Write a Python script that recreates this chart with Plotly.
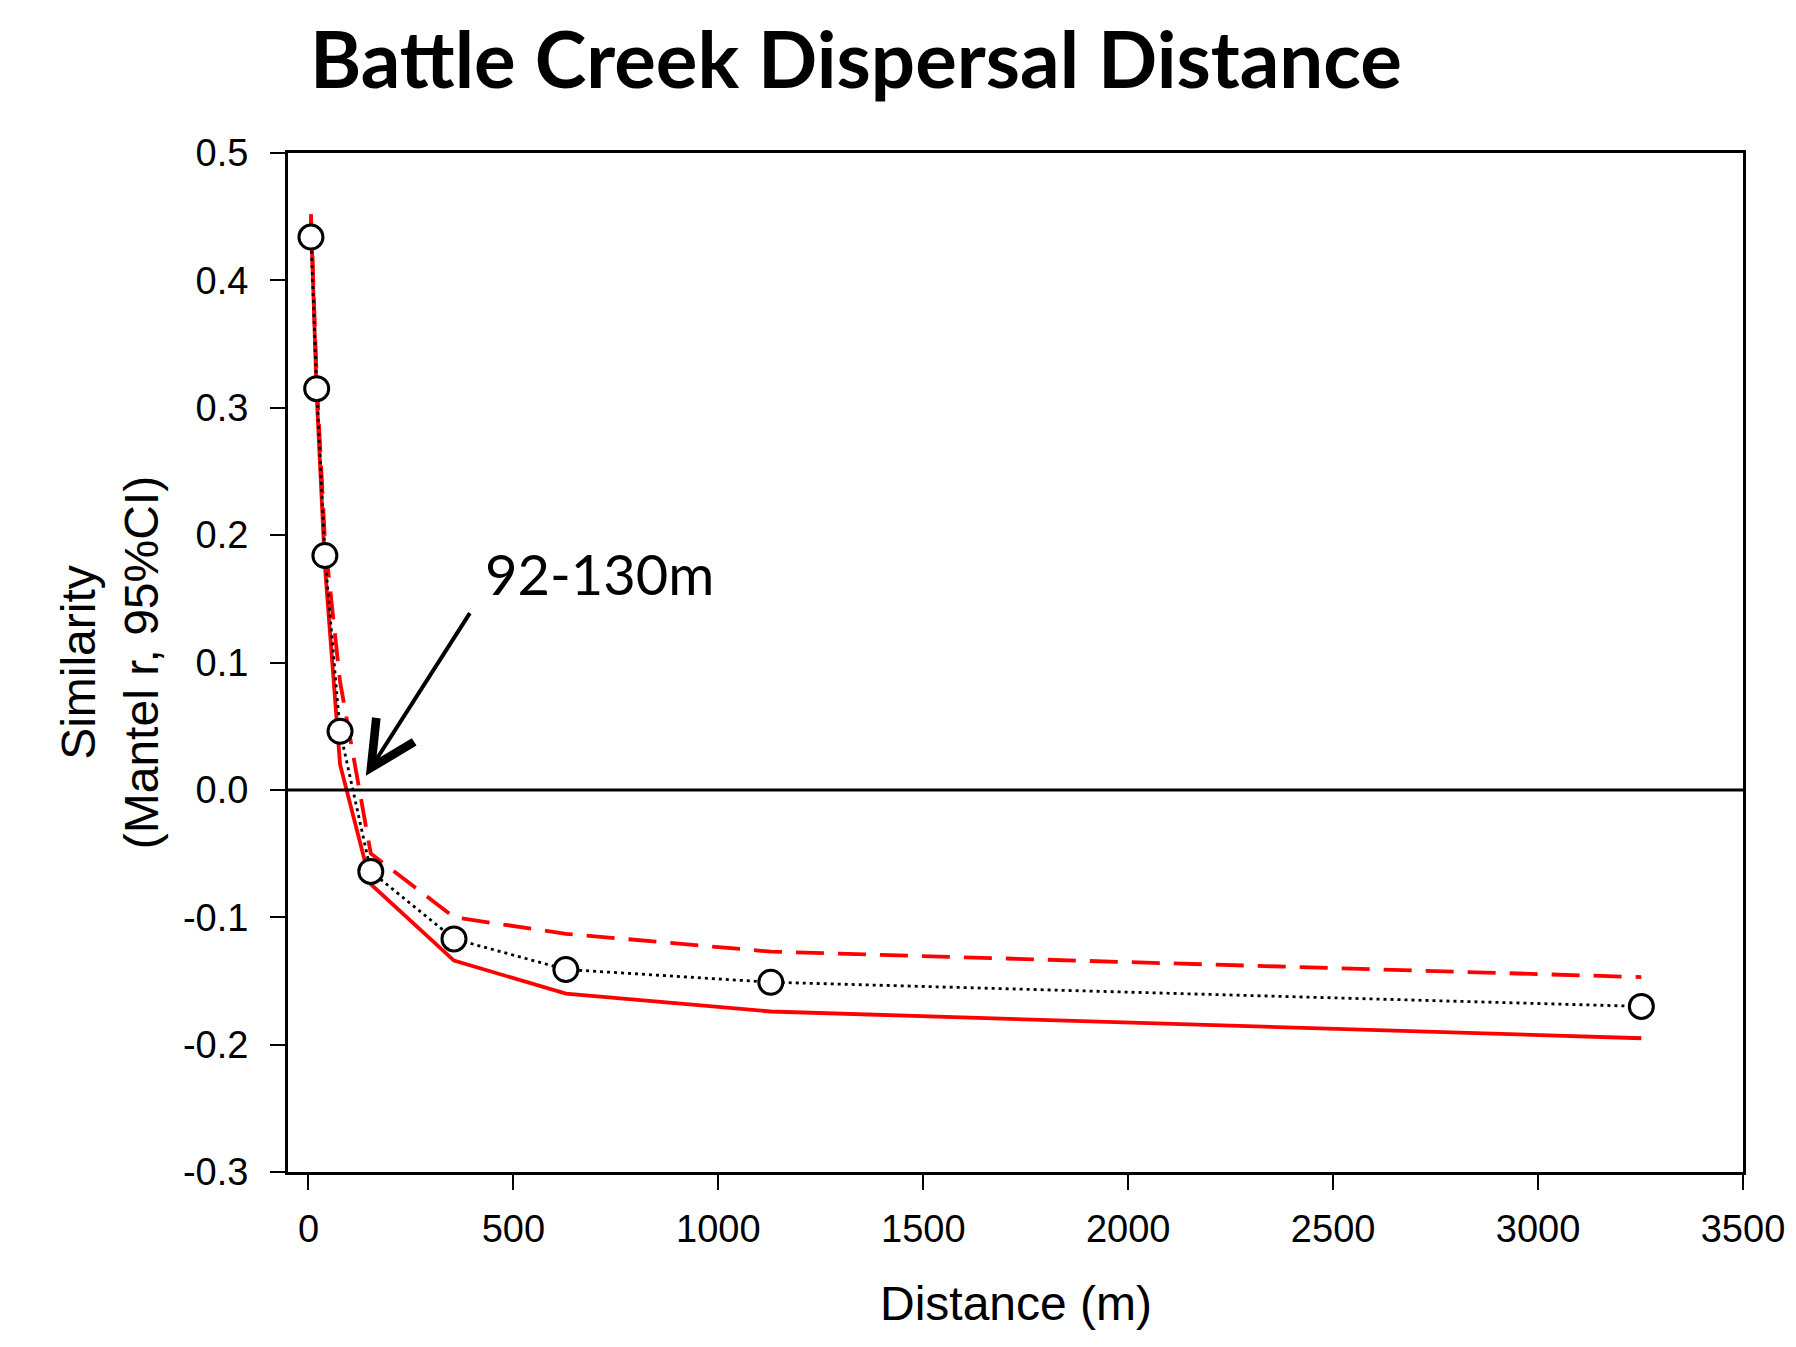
import plotly.graph_objects as go

distance = [6, 20, 40, 77, 152, 355, 628, 1128, 3252]
mantel_r = [0.434, 0.315, 0.184, 0.046, -0.064, -0.117, -0.141, -0.151, -0.170]
ci_upper = [0.452, 0.322, 0.196, 0.085, -0.050, -0.100, -0.113, -0.127, -0.147]
ci_lower = [0.450, 0.310, 0.176, 0.020, -0.074, -0.134, -0.160, -0.174, -0.195]

x_ticks = [0, 500, 1000, 1500, 2000, 2500, 3000, 3500]
y_ticks = [0.5, 0.4, 0.3, 0.2, 0.1, 0.0, -0.1, -0.2, -0.3]
y_tick_labels = ["0.5", "0.4", "0.3", "0.2", "0.1", "0.0", "-0.1", "-0.2", "-0.3"]

fig = go.Figure()
fig.add_trace(go.Scatter(x=distance, y=ci_upper, mode="lines",
                         line=dict(color="#ff0000", width=3.8, dash="28px,14px"),
                         showlegend=False))
fig.add_trace(go.Scatter(x=distance, y=ci_lower, mode="lines",
                         line=dict(color="#ff0000", width=3.8),
                         showlegend=False))
fig.add_trace(go.Scatter(x=distance, y=mantel_r, mode="lines+markers",
                         line=dict(color="black", width=2.8, dash="3px,4px"),
                         marker=dict(symbol="circle", size=24, color="white",
                                     line=dict(color="black", width=3)),
                         showlegend=False))

fig.add_shape(type="line", xref="paper", yref="y", x0=0, x1=1, y0=0, y1=0,
              line=dict(color="black", width=3))

fig.add_annotation(x=140, y=0.011, ax=396, ay=0.140, xref="x", yref="y",
                   axref="x", ayref="y", text="", showarrow=True,
                   arrowhead=5, arrowsize=2.2, arrowwidth=4, arrowcolor="black")
fig.add_annotation(x=709, y=0.170, xref="x", yref="y", text="92-130m",
                   showarrow=False, font=dict(family="Lato", size=56, color="black"))

fig.add_annotation(x=-0.1225, y=0.5, xref="paper", yref="paper",
                   xanchor="center", yanchor="middle",
                   text="Similarity<br>(Mantel r, 95%CI)", textangle=-90,
                   showarrow=False,
                   font=dict(family="Liberation Sans", size=48, color="black"))
fig.add_annotation(x=0.5, y=-0.1286, xref="paper", yref="paper",
                   xanchor="center", yanchor="middle",
                   text="Distance (m)", showarrow=False,
                   font=dict(family="Liberation Sans", size=48, color="black"))

fig.update_layout(
    width=1780, height=1331,
    margin=dict(l=280, r=45, t=145, b=167, autoexpand=False),
    paper_bgcolor="white", plot_bgcolor="white",
    title=dict(text="<b>Battle Creek Dispersal Distance</b>", xref="container",
               yref="container", x=0.4764, y=0.9602, xanchor="center",
               yanchor="middle", font=dict(family="Lato", size=78, color="black")),
    xaxis=dict(range=[-50, 3500], tickvals=x_ticks, ticks="outside", ticklen=15,
               tickwidth=2, tickcolor="black", showline=True, linecolor="black",
               linewidth=3, mirror=True, showgrid=False, zeroline=False,
               ticklabelstandoff=6, automargin=False,
               tickfont=dict(family="Liberation Sans", size=38, color="black")),
    yaxis=dict(range=[-0.3, 0.5], tickvals=y_ticks, ticktext=y_tick_labels,
               ticks="outside", ticklen=15, tickwidth=2, tickcolor="black",
               showline=True, linecolor="black", linewidth=3, mirror=True,
               showgrid=False, zeroline=False, ticklabelstandoff=14,
               automargin=False,
               tickfont=dict(family="Liberation Sans", size=38, color="black")),
)

fig.write_html("out.html")
